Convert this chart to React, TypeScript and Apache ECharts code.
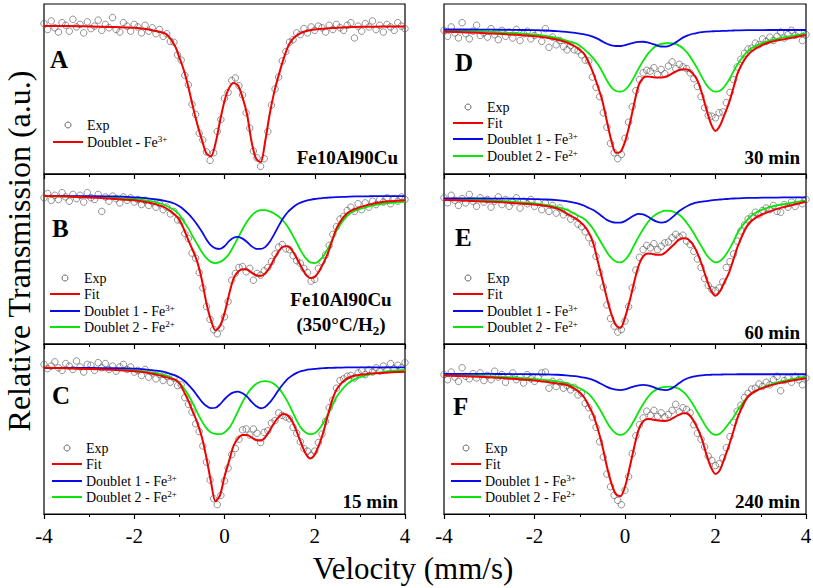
import React, { useEffect, useRef } from 'react';
import * as echarts from 'echarts';

// Velocity grid for the fitted curves (mm/s)
const CURVE_V = [
  -4, -3.5, -3, -2.5, -2, -1.75, -1.5, -1.3, -1.1, -1,
  -0.9, -0.8, -0.7, -0.6, -0.5, -0.4, -0.3, -0.2, -0.1, 0,
  0.1, 0.2, 0.3, 0.4, 0.5, 0.6, 0.7, 0.8, 0.9, 1,
  1.1, 1.2, 1.3, 1.4, 1.5, 1.6, 1.7, 1.8, 1.9, 2,
  2.1, 2.2, 2.3, 2.4, 2.5, 2.7, 2.9, 3.2, 3.5, 4,
];

// Velocity channels of the experimental points (mm/s)
const EXP_V = [
  -4, -3.92, -3.84, -3.76, -3.68, -3.6, -3.52, -3.44, -3.36, -3.28, -3.2, -3.12, -3.04,
  -2.96, -2.88, -2.8, -2.72, -2.64, -2.56, -2.48, -2.4, -2.32, -2.24, -2.16, -2.08, -2,
  -1.92, -1.84, -1.76, -1.68, -1.6, -1.52, -1.44, -1.36, -1.28, -1.2, -1.12, -1.04,
  -0.96, -0.88, -0.8, -0.72, -0.64, -0.56, -0.48, -0.4, -0.32, -0.24, -0.16, -0.08,
  0, 0.08, 0.16, 0.24, 0.32, 0.4, 0.48, 0.56, 0.64, 0.72, 0.8, 0.88, 0.96, 1.04, 1.12,
  1.2, 1.28, 1.36, 1.44, 1.52, 1.6, 1.68, 1.76, 1.84, 1.92, 2, 2.08, 2.16, 2.24, 2.32,
  2.4, 2.48, 2.56, 2.64, 2.72, 2.8, 2.88, 2.96, 3.04, 3.12, 3.2, 3.28, 3.36, 3.44, 3.52,
  3.6, 3.68, 3.76, 3.84, 3.92, 4,
];

// ---- Panel A: Fe10Al90Cu ----
const EXP_A = [
  88.5, 85, 90, 86, 83.5, 89, 87.5, 84, 91, 86.5, 88, 83, 89.5, 85.5, 87, 90.5, 84.5, 88, 86, 92, 85, 83.5, 89, 87, 84, 88,
  86.5, 83, 87.5, 84, 86, 82.5, 85, 81, 82.5, 78, 77.5, 70, 67, 58, 52.5, 41, 35, 24, 20, 13, 8, 12.5, 25, 32,
  44.5, 48, 55, 56.5, 52, 46.5, 36, 27, 13.5, 9.5, 4.5, 9, 25, 40.5, 50, 57, 66.5, 72, 77.5, 79, 83, 82, 85.5, 83, 86.5, 84.5,
  87, 86, 83.5, 87.5, 85, 88, 86, 84.5, 87.5, 89, 80, 87, 84, 88.5, 86.5, 90, 85, 87.5, 83.5, 88, 86.5, 84.5, 89, 87, 85.5,
];
const FIT_A = [
  87, 87, 86.8, 86.5, 86, 85.3, 84, 82.5, 75.5, 68.5,
  61, 51, 39.5, 29, 20, 12, 10.5, 18, 31, 43,
  50.5, 53.5, 52, 45, 35, 19, 9, 7, 19, 35,
  48, 58, 67, 74.5, 79, 81.5, 83, 84, 84.6, 85,
  85.3, 85.5, 85.7, 85.9, 86, 86.3, 86.5, 86.6, 86.7, 86.8,
];

// ---- Panel B: Fe10Al90Cu (350°C/H2) ----
const EXP_B = [
  86, 88.5, 84.5, 87.5, 85, 89, 86.5, 84, 88, 85.5, 87.5, 83.5, 89, 86, 85, 88, 78, 86.5, 84, 87, 85.5, 83, 86.5, 84.5, 86, 83.5,
  85, 82, 84.5, 81.5, 83.5, 80.5, 82.5, 79, 80.5, 76.5, 78, 73, 72.5, 65, 62, 53.5, 50.5, 42, 33, 22, 14.5, 8.5, 6, 9.5,
  16, 25, 37.5, 41.5, 45, 45.5, 42.5, 44.5, 37.5, 41.5, 40.5, 43, 45, 48.5, 53, 57, 58.5, 56, 55.5, 52, 49, 47.5, 44.5, 42, 37, 38,
  44.5, 48.5, 52.5, 58, 64.5, 69, 73.5, 75, 78.5, 80.5, 78, 82.5, 79, 83, 80.5, 84, 82, 85, 83.5, 86, 82.5, 85.5, 84, 86.5, 85,
];
const FIT_B = [
  87, 86.7, 86.2, 85.5, 84.5, 83.5, 82, 80, 76, 73,
  67.5, 61, 55, 48, 37.5, 24, 14, 8, 10.5, 18,
  29, 38.5, 42.5, 44, 43.8, 42, 40.5, 40, 41.5, 45,
  50, 54.5, 57.3, 57.5, 55, 50.5, 45.5, 41, 38.8, 39.5,
  43, 48, 54, 62, 69, 76.5, 79.5, 82, 83.5, 84.5,
];
const D1_B = [
  87, 87, 87, 86.8, 86.3, 85.8, 85, 84, 82.5, 81,
  79, 76.5, 73.5, 70, 66, 61.5, 58, 56.3, 56, 57.5,
  60.5, 62.5, 63, 62, 60, 57.5, 56, 55.9, 57, 60,
  64.5, 69.5, 74, 77.5, 80, 82, 83.3, 84.2, 84.8, 85.3,
  85.6, 85.9, 86.1, 86.3, 86.4, 86.6, 86.8, 86.9, 87, 87,
];
const D2_B = [
  87, 86.8, 86.6, 86.2, 85.3, 84.5, 83.3, 81.5, 78.5, 76,
  72, 68, 63, 58.5, 54, 50.5, 48.3, 47.6, 48.3, 50,
  53, 57.5, 62.5, 67.5, 72, 75.5, 77.8, 78.8, 78.8, 78,
  76.8, 75, 72.5, 69, 64.5, 59.5, 54.5, 50.5, 48, 47.6,
  49, 52, 56.5, 62, 67.5, 75, 78.5, 81, 82.5, 83.8,
];

// ---- Panel C: 15 min ----
const EXP_C = [
  88, 85.5, 87, 89.5, 86, 84.5, 88.5, 87, 85, 90, 86.5, 83.5, 88, 87.5, 84.5, 89, 86, 88.5, 85, 87, 84, 86.5, 88, 85, 86.5, 83.5,
  84.5, 81.5, 85, 80.5, 83, 79.5, 82, 78.5, 81, 77.5, 80, 75.5, 76, 68.5, 64.5, 60, 53, 48.5, 40, 30.5, 20, 9, 5.5, 11,
  19.5, 27, 35, 38.5, 44, 49.5, 50, 46.5, 50, 47.5, 42, 48, 49, 53.5, 55, 59.5, 58, 57, 56, 51, 47.5, 42.5, 38.5, 37, 34.5, 37,
  42, 47, 54.5, 62.5, 67, 74, 78.5, 79.5, 81, 81.5, 80, 83, 84.5, 82, 85, 83.5, 86, 84, 87, 85, 88.5, 85.5, 87.5, 86, 89,
];
const FIT_C = [
  86, 85.7, 85.3, 84.8, 84, 83.3, 82, 80.5, 79, 77,
  72, 66.5, 60, 53.5, 45, 33, 19, 7.5, 11, 22,
  31, 40, 44.5, 46.5, 46.5, 45, 43.5, 43.2, 45, 49,
  53.5, 57, 58.8, 58, 54.5, 48.5, 41.5, 35.5, 32.7, 35,
  41, 49, 59, 68, 74, 79.5, 81.5, 82.5, 83, 83.7,
];
const D1_C = [
  86, 86, 86, 85.8, 85.5, 85, 84.3, 83.3, 81.5, 80.3,
  78.5, 76, 73, 69.5, 66, 63.5, 62.3, 62.5, 64.5, 67.5,
  70, 71.5, 72, 71, 69, 66, 63.5, 62.2, 63, 65.5,
  69, 73, 76.5, 79.5, 81.5, 83, 84, 84.7, 85.1, 85.4,
  85.6, 85.8, 85.9, 86, 86.1, 86.2, 86.3, 86.3, 86.3, 86.3,
];
const D2_C = [
  86, 85.8, 85.6, 85.2, 84.5, 83.8, 82.8, 81.5, 79, 77,
  74, 70, 65, 59.5, 54.5, 50.5, 48, 47.2, 47, 48,
  50.5, 55, 60.5, 66, 70.5, 74, 76.5, 77.8, 78.2, 77.8,
  76.5, 74, 70.5, 66, 60.5, 55, 50.5, 48, 47, 47.5,
  50, 54, 59, 64.5, 69.5, 76, 79.5, 82, 83.5, 84.7,
];

// ---- Panel D: 30 min ----
const EXP_D = [
  84.5, 81, 86.5, 83, 80, 89, 82.5, 79.5, 84, 87.5, 81.5, 83, 80.5, 85.5, 82, 79, 84.5, 81, 83.5, 80, 85, 78.5, 82.5, 84, 79.5, 81.5,
  83, 78, 85.5, 74.5, 80.5, 76, 78.5, 75, 73, 75.5, 73, 72.5, 70, 67, 66.5, 57, 51, 45.5, 36, 27.5, 18, 12.5, 9, 11.5,
  21, 30.5, 39.5, 49, 55.5, 59.5, 61, 60.5, 62.5, 58.5, 61.5, 59, 63.5, 66, 62, 64.5, 63, 62, 59.5, 56, 51.5, 45.5, 39, 34.5, 34, 33,
  36, 36.5, 42, 48, 55.5, 63, 67.5, 71, 73.5, 74, 77, 76, 79.5, 78, 80.5, 78.5, 81, 83.5, 80, 82, 84.5, 81.5, 83, 78.5, 82,
];
const FIT_D = [
  83.7, 83.3, 82.7, 82, 81, 80.3, 79, 77.5, 75, 73,
  70.5, 65.5, 59.2, 51.5, 43, 31, 19.5, 12.5, 13, 19,
  29, 41, 52, 56.5, 57.3, 57, 56.8, 56.8, 57.2, 58.5,
  60, 61.2, 61.6, 61.2, 59, 55, 47.5, 38, 29.5, 25.3,
  28.5, 35, 42, 51, 60, 69.5, 74, 77.5, 79.2, 81.8,
];
const D1_D = [
  85, 85, 84.9, 84.8, 84.6, 84.4, 84, 83.6, 83, 82.6,
  82.2, 81.6, 80.7, 79.5, 78, 76.6, 75.7, 75.3, 75.3, 75.8,
  76.6, 77.3, 77.7, 77.8, 77.4, 76.6, 75.7, 75, 74.9, 75.6,
  77, 78.8, 80.5, 81.6, 82.5, 83, 83.4, 83.7, 83.9, 84,
  84.1, 84.2, 84.3, 84.4, 84.5, 84.6, 84.6, 84.7, 84.7, 84.7,
];
const D2_D = [
  84.3, 84, 83.6, 83, 82, 81.2, 80, 78.5, 77, 75.5,
  73.3, 71, 68, 64.5, 60, 55, 51, 48.8, 48.4, 49.5,
  52.5, 57, 62, 66.5, 70.5, 73.5, 75.5, 76.5, 76.9, 76.9,
  76.5, 75.5, 73.5, 70.5, 66.5, 62, 57, 52.5, 49.5, 48.4,
  49, 51.5, 55.5, 60.5, 65, 72, 75.5, 78.5, 80.3, 82.7,
];

// ---- Panel E: 60 min ----
const EXP_E = [
  86, 83, 87.5, 84.5, 81.5, 85.5, 83, 88, 84, 81, 86, 83.5, 85, 80.5, 84, 86.5, 82, 85, 81, 83.5, 86, 80, 84, 82.5, 85, 81,
  83.5, 79, 83, 78, 81.5, 77, 80, 76, 77.5, 73.5, 75, 70.5, 69, 66, 62.5, 59, 51.5, 42, 33.5, 23, 15, 10.5, 7, 8.5,
  13.5, 22, 33, 43.5, 51, 55.5, 58, 56.5, 59, 55.5, 57.5, 59.5, 60, 62.5, 64.5, 63, 64, 60.5, 58.5, 54.5, 50, 45, 38.5, 34.5, 32, 31.5,
  33, 36.5, 45, 48.5, 53, 60.5, 66.5, 70, 73.5, 75, 77.5, 76, 78.5, 80, 79, 81.5, 78, 77.5, 82, 80.5, 83.5, 81, 84.5, 82.5, 85,
];
const FIT_E = [
  84.7, 84.3, 83.7, 83, 82, 81.2, 79.8, 77, 74, 72,
  69.5, 65.5, 59.2, 48.5, 38, 27, 17.5, 11, 9.5, 15.5,
  25, 36, 46, 51.5, 53.3, 53, 52.5, 52.5, 54, 56.5,
  59, 61.5, 62.2, 61.5, 58.5, 53.5, 46.5, 38.5, 31.5, 28.4,
  31, 36.5, 42, 50, 58, 69.5, 74.5, 78, 80.5, 83.7,
];
const D1_E = [
  85.7, 85.7, 85.6, 85.5, 85.2, 85, 84.6, 84, 83, 82.3,
  81.3, 80, 78.8, 77, 75, 73, 71.9, 71.4, 71.4, 72.3,
  74, 75.6, 76.5, 76.2, 75, 73.3, 72, 71.4, 71.8, 73.5,
  75.8, 78.2, 80, 81.5, 82.6, 83.3, 83.7, 84.1, 84.5, 84.8,
  85, 85.2, 85.4, 85.6, 85.7, 85.9, 86, 86.1, 86.2, 86.3,
];
const D2_E = [
  85.3, 85, 84.5, 83.8, 82.7, 81.8, 80.5, 79, 76.5, 75,
  73.5, 71, 67.5, 63, 58.5, 54, 50.5, 48.5, 48, 49.5,
  53, 58, 63, 67.5, 71.5, 74.5, 76.5, 77.8, 78.4, 78.3,
  77.5, 76, 73.5, 70, 66, 61.5, 57, 52.5, 49.5, 48,
  48.8, 51.5, 55.5, 60.5, 66, 73, 77.5, 80.5, 82.2, 84.3,
];

// ---- Panel F: 240 min ----
const EXP_F = [
  82, 79, 83.5, 80.5, 78, 86, 81, 79.5, 82.5, 80, 83, 78.5, 81.5, 79, 84, 80.5, 82, 77.5, 81, 83, 79, 80.5, 77, 82, 79.5, 78,
  80.5, 83, 83.5, 74, 78, 75, 77.5, 74, 75.5, 73, 74.5, 70, 71, 65, 62.5, 57, 51, 42.5, 33.5, 23.5, 16, 11, 8, 5.5,
  14, 22, 35.5, 46, 52.5, 56.5, 60.5, 58, 61, 57.5, 59.5, 57, 58.5, 61, 64.5, 60, 62.5, 61.5, 59.5, 52.5, 47.5, 44, 39.5, 34, 31.5, 28.5,
  29.5, 33, 39, 45.5, 54, 60.5, 64, 68.5, 71, 73.5, 74, 76.5, 75, 77.5, 76, 79, 81, 72.5, 78.5, 80, 77.5, 81, 79, 76, 80,
];
const FIT_F = [
  81.4, 81, 80.4, 79.6, 78.6, 77.8, 76.8, 76, 73.5, 71.5,
  68.5, 63.5, 58.2, 50, 40, 28, 18, 11.5, 10.5, 16,
  27, 39, 49.5, 54.5, 55.9, 55.6, 55.2, 54.8, 54.7, 55.5,
  57, 58.5, 59.2, 58.8, 55.5, 50.5, 44, 35, 27.5, 23.5,
  26, 33, 40.5, 49, 57.5, 68.5, 72.5, 75.5, 77.5, 79.8,
];
const D1_F = [
  82.4, 82.4, 82.4, 82.3, 82.2, 82.1, 81.9, 81.6, 81.1, 80.7,
  80.2, 79.6, 78.8, 77.6, 76.2, 74.8, 73.7, 73.1, 72.9, 73.3,
  74.2, 75.1, 75.7, 75.9, 75.6, 74.9, 73.9, 73.1, 72.9, 73.5,
  75, 77, 78.8, 80, 80.8, 81.3, 81.6, 81.8, 81.9, 82,
  82, 82.1, 82.1, 82.1, 82.2, 82.2, 82.2, 82.2, 82.2, 82.2,
];
const D2_F = [
  81.8, 81.5, 81, 80.4, 79.5, 78.8, 78, 77, 75, 74,
  72.5, 70.5, 67.5, 63.5, 59, 54, 50, 47.3, 46.5, 47.5,
  50.5, 55, 60, 64.5, 68.5, 71.5, 73.3, 74.3, 74.8, 74.9,
  74.5, 73.5, 71.5, 68.5, 64.5, 60, 55.5, 51, 47.8, 46.5,
  47.3, 50, 53.5, 57, 61.5, 68.5, 72.5, 76, 78.3, 80.8,
];

const X_TICKS = [-4, -2, 0, 2, 4];
const PANEL_LETTERS = ['A', 'B', 'C', 'D', 'E', 'F'];

const FONT = "'Liberation Serif', serif";
const RED = '#f00000';
const BLUE = '#0a0ae8';
const GREEN = '#0ae60a';
const PT = '#555555';

type Panel = {
  letter: string;
  exp: number[];
  fit: number[];
  d1: number[] | null;
  d2: number[] | null;
  left: number;
  top: number;
  width: number;
  labels: boolean;
  legendX: number;
  legendY: number[];
  letterPos: [number, number];
};

const PANELS: Panel[] = [
  { letter: PANEL_LETTERS[0], exp: EXP_A, fit: FIT_A, d1: null, d2: null, left: 44, top: 4, width: 361, labels: false, legendX: 53, legendY: [125, 142], letterPos: [50, 59] },
  { letter: PANEL_LETTERS[1], exp: EXP_B, fit: FIT_B, d1: D1_B, d2: D2_B, left: 44, top: 174, width: 361, labels: false, legendX: 50, legendY: [278, 294, 311, 327], letterPos: [52, 228] },
  { letter: PANEL_LETTERS[2], exp: EXP_C, fit: FIT_C, d1: D1_C, d2: D2_C, left: 44, top: 344, width: 361, labels: true, legendX: 52, legendY: [448, 464, 481, 497], letterPos: [52, 395] },
  { letter: PANEL_LETTERS[3], exp: EXP_D, fit: FIT_D, d1: D1_D, d2: D2_D, left: 444, top: 4, width: 362, labels: false, legendX: 453, legendY: [107, 123, 139, 156], letterPos: [455, 62] },
  { letter: PANEL_LETTERS[4], exp: EXP_E, fit: FIT_E, d1: D1_E, d2: D2_E, left: 444, top: 174, width: 362, labels: false, legendX: 453, legendY: [278, 294, 311, 327], letterPos: [455, 237] },
  { letter: PANEL_LETTERS[5], exp: EXP_F, fit: FIT_F, d1: D1_F, d2: D2_F, left: 444, top: 344, width: 362, labels: true, legendX: 451, legendY: [448, 464, 481, 497], letterPos: [453, 406] },
];

const legendRich = {
  n: { fontSize: 14, fontFamily: FONT, lineHeight: 16, fill: '#000' },
  sup: { fontSize: 9, fontFamily: FONT, lineHeight: 9, verticalAlign: 'top', fill: '#000' },
};

function legendGraphics(p: Panel) {
  const els: any[] = [];
  const entries: { kind: 'exp' | 'line'; color: string; text: string }[] = p.d1
    ? [
        { kind: 'exp', color: PT, text: '{n|Exp}' },
        { kind: 'line', color: RED, text: '{n|Fit}' },
        { kind: 'line', color: BLUE, text: '{n|Doublet 1 - Fe}{sup|3+}' },
        { kind: 'line', color: GREEN, text: '{n|Doublet 2 - Fe}{sup|2+}' },
      ]
    : [
        { kind: 'exp', color: PT, text: '{n|Exp}' },
        { kind: 'line', color: RED, text: '{n|Doublet - Fe}{sup|3+}' },
      ];
  entries.forEach((e, i) => {
    const y = p.legendY[i];
    if (e.kind === 'exp') {
      els.push({ type: 'circle', shape: { cx: p.legendX + 15, cy: y, r: 3 }, style: { fill: 'none', stroke: PT, lineWidth: 0.9 } });
    } else {
      els.push({ type: 'line', shape: { x1: p.legendX, y1: y, x2: p.legendX + 30, y2: y }, style: { stroke: e.color, lineWidth: 2 } });
    }
    els.push({
      type: 'text',
      x: p.legendX + 34,
      y,
      style: { text: e.text, rich: legendRich, fontFamily: FONT, align: 'left', verticalAlign: 'middle', textAlign: 'left', textVerticalAlign: 'middle' },
    });
  });
  return els;
}

function buildOption() {
  const grid = PANELS.map((p) => ({
    left: p.left, top: p.top, width: p.width, height: 170,
    show: true, borderColor: '#000', borderWidth: 1.2, backgroundColor: 'transparent',
    containLabel: false, outerBoundsMode: 'none',
  }));
  const xAxis = PANELS.map((p, k) => ({
    type: 'value', gridIndex: k, min: X_TICKS[0], max: X_TICKS[X_TICKS.length - 1], interval: 2,
    axisLine: { show: true, lineStyle: { color: '#000', width: 1.2 } },
    axisTick: { show: true, inside: false, length: 5, lineStyle: { color: '#000', width: 1.2 } },
    minorTick: { show: true, splitNumber: 2, length: 3, lineStyle: { color: '#000', width: 1 } },
    axisLabel: { show: p.labels, color: '#000', fontFamily: FONT, fontSize: 21, margin: 11 },
    splitLine: { show: false },
    minorSplitLine: { show: false },
  }));
  const yAxis = PANELS.map((_p, k) => ({ type: 'value', gridIndex: k, min: 0, max: 100, show: false }));

  const series: any[] = [];
  PANELS.forEach((p, k) => {
    series.push({
      type: 'scatter', name: 'Exp', xAxisIndex: k, yAxisIndex: k,
      data: EXP_V.map((v, i) => [v, p.exp[i]]),
      symbol: 'circle', symbolSize: 6.5,
      itemStyle: { color: 'rgba(0,0,0,0)', borderColor: PT, borderWidth: 0.8 },
      silent: true, z: 2,
    });
    const line = (name: string, vals: number[], color: string, w: number, z: number) => ({
      type: 'line', name, xAxisIndex: k, yAxisIndex: k,
      data: CURVE_V.map((v, i) => [v, vals[i]]),
      showSymbol: false, symbol: 'none', smooth: 0.3,
      lineStyle: { color, width: w }, silent: true, z,
    });
    if (p.d2) series.push(line('Doublet 2 - Fe2+', p.d2, GREEN, 1.8, 3));
    if (p.d1) series.push(line('Doublet 1 - Fe3+', p.d1, BLUE, 1.8, 4));
    series.push(line(p.d1 ? 'Fit' : 'Doublet - Fe3+', p.fit, RED, 2, 5));
  });

  const graphic: any[] = [];
  PANELS.forEach((p) => {
    graphic.push(...legendGraphics(p));
    graphic.push({
      type: 'text', x: p.letterPos[0], y: p.letterPos[1],
      style: { text: p.letter, fontFamily: FONT, fontSize: 25, fontWeight: 'bold', fill: '#000', align: 'left', verticalAlign: 'middle', textAlign: 'left', textVerticalAlign: 'middle' },
    });
  });
  const bold = (text: string, x: number, y: number) => ({
    type: 'text', x, y,
    style: { text, fontFamily: FONT, fontSize: 19, fontWeight: 'bold', fill: '#000', align: 'right', verticalAlign: 'middle', textAlign: 'right', textVerticalAlign: 'middle' },
  });
  graphic.push(bold('Fe10Al90Cu', 398, 157));
  graphic.push({
    type: 'text', x: 341, y: 312,
    style: {
      text: '{b|Fe10Al90Cu}\n{b|(350°C/H}{sub|2}{b|)}',
      fontFamily: FONT,
      rich: {
        b: { fontFamily: FONT, fontSize: 19, fontWeight: 'bold', lineHeight: 25, fill: '#000' },
        sub: { fontFamily: FONT, fontSize: 13, fontWeight: 'bold', lineHeight: 13, verticalAlign: 'bottom', fill: '#000' },
      },
      align: 'center', verticalAlign: 'middle', textAlign: 'center', textVerticalAlign: 'middle',
    },
  });
  graphic.push(bold('15 min', 398, 501));
  graphic.push(bold('30 min', 800, 157));
  graphic.push(bold('60 min', 800, 332));
  graphic.push(bold('240 min', 800, 501));

  graphic.push({
    type: 'text', x: 413, y: 568,
    style: { text: 'Velocity (mm/s)', fontFamily: FONT, fontSize: 31, fill: '#000', align: 'center', verticalAlign: 'middle', textAlign: 'center', textVerticalAlign: 'middle' },
  });
  graphic.push({
    type: 'text', x: 19, y: 251, rotation: Math.PI / 2,
    style: { text: 'Relative Transmission (a.u.)', fontFamily: FONT, fontSize: 32, fill: '#000', align: 'center', verticalAlign: 'middle', textAlign: 'center', textVerticalAlign: 'middle' },
  });

  return {
    animation: false,
    backgroundColor: '#fff',
    textStyle: { fontFamily: FONT },
    grid, xAxis, yAxis, series, graphic,
  };
}

export default function App() {
  const ref = useRef<HTMLDivElement>(null);
  useEffect(() => {
    if (!ref.current) return;
    const chart = echarts.init(ref.current, null, { renderer: 'svg' });
    chart.setOption(buildOption() as any);
    return () => chart.dispose();
  }, []);
  return <div ref={ref} style={{ position: 'absolute', left: 0, top: 0, width: 813, height: 588 }} />;
}
